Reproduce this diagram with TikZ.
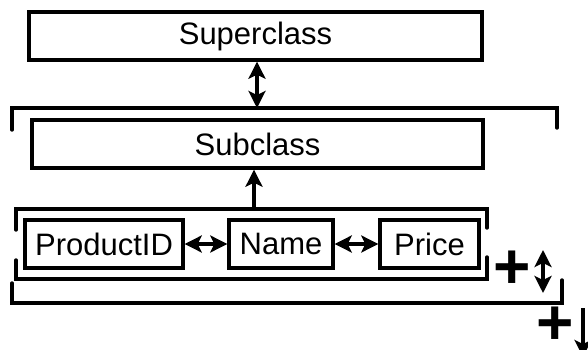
\documentclass[tikz,border=0pt]{standalone}
\usepackage{fontspec}
\setmainfont{Liberation Sans}
\usetikzlibrary{arrows.meta}
\tikzset{
	classbox/.style={draw, line width=3.4pt, inner sep=0pt, minimum height=48pt, font=\fontsize{31}{36}\selectfont},
	bracket/.style={line width=3.4pt, line cap=round},
	link/.style={line width=3.2pt, >={Stealth[length=17pt,width=17pt,inset=4pt]}},
	plussign/.style={inner sep=0pt, font=\fontsize{64}{66}\selectfont\bfseries}
}
\begin{document}
\begin{tikzpicture}[x=1pt, y=-1pt]
		\useasboundingbox (0,0) rectangle (588,350);
		% classes
		\node[classbox, minimum width=453pt] (super) at (255.5,36) {Superclass};
		\node[classbox, minimum width=451pt] (sub) at (257.5,144) {Subclass};
		% attributes
		\node[classbox, minimum width=158pt] (pid) at (104,244) {ProductID};
		\node[classbox, minimum width=104pt] (name) at (281,244) {Name};
		\node[classbox, minimum width=99pt] (price) at (429.5,244) {Price};
		% brackets
		\coordinate (outertop) at (257,108);
		\coordinate (innertop) at (254,209);
		\draw[bracket] (12,130) -- (12,108) -- (557,108) -- (557,128);
		\draw[bracket] (12,283) -- (12,303) -- (562,303) -- (562,280);
		\draw[bracket] (16,230) -- (16,209) -- (487,209) -- (487,228);
		\draw[bracket] (16,260) -- (16,279) -- (487,279) -- (487,257);
		% links
		\draw[link, <->] (super.south -| outertop) -- (outertop);
		\draw[link, ->] (innertop) -- (sub.south -| innertop);
		\draw[link, <->] (pid) -- (name);
		\draw[link, <->] (name) -- (price);
		% repetition marks
		\node[plussign] (plusA) at (512,270) {+};
		\node[plussign] (plusB) at (555,326) {+};
		\coordinate (moreA) at (543,250);
		\coordinate (moreB) at (543,293);
		\coordinate (downA) at (583,308);
		\coordinate (downB) at (583,357);
		\draw[link, <->] (moreA) -- (moreB);
		\draw[link, ->] (downA) -- (downB);
\end{tikzpicture}
\end{document}
